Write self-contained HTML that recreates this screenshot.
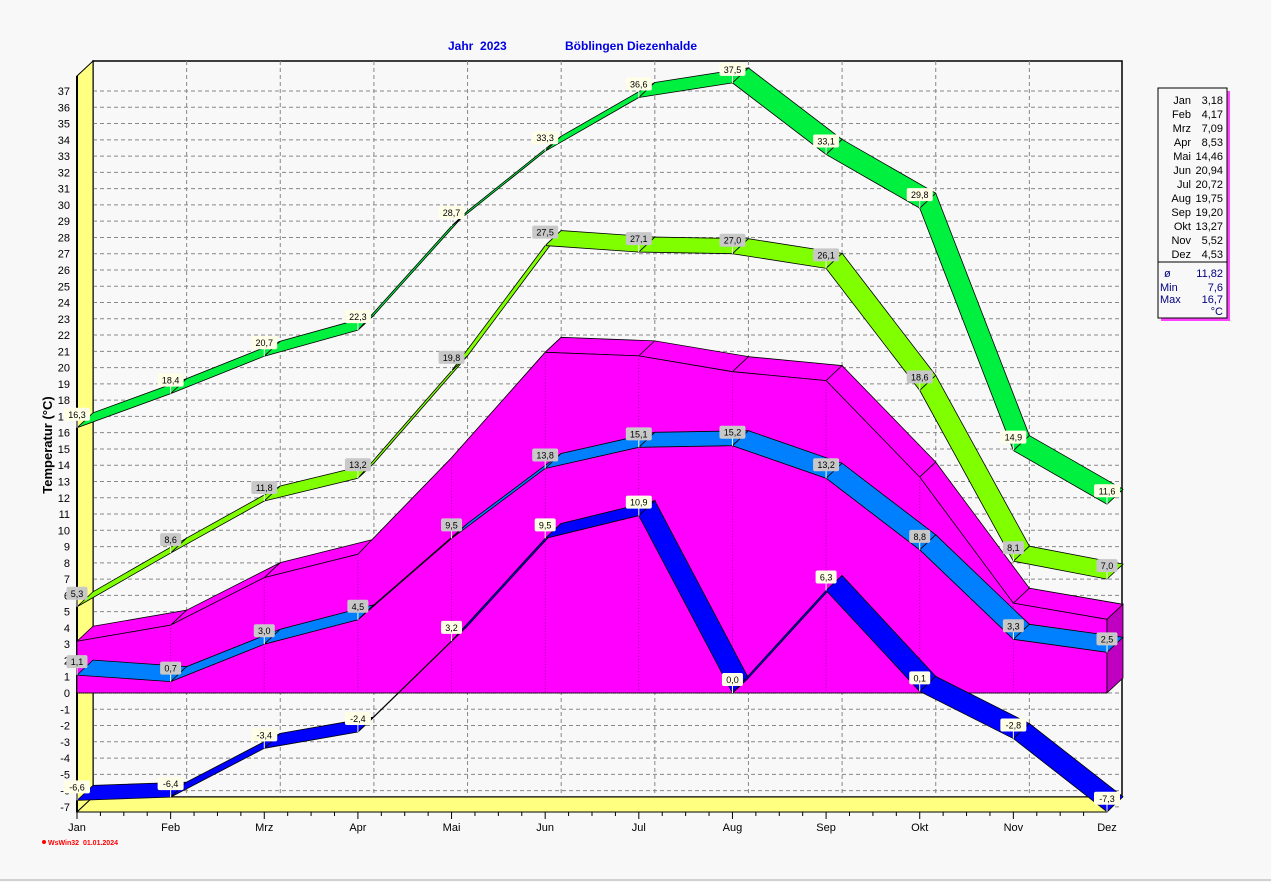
<!DOCTYPE html><html><head><meta charset="utf-8"><style>
body{margin:0;background:#f8f8f8;}
svg{display:block;font-family:"Liberation Sans",sans-serif;}
</style></head><body>
<svg id="s" width="1271" height="882" xmlns="http://www.w3.org/2000/svg"></svg>
<script>
const s=document.getElementById('s');
let h='';
const X0=77,DX=(1107-77)/11,Y0=693,K=16.27,dx=16,dy=-15;
const fx=i=>X0+i*DX, fy=v=>Y0-v*K;
// back wall
h+=`<rect x="93" y="61" width="1029" height="736" fill="#f8f8f8" stroke="#000" stroke-width="1.5"/>`;
// grid
for(let v=-7;v<=37;v++){const y=fy(v);h+=`<line x1="93" x2="1122" y1="${y}" y2="${y}" stroke="#888" stroke-dasharray="4,3"/>`;
h+=`<line x1="${X0}" y1="${y+0}" x2="${X0+dx}" y2="${y+dy}" stroke="#888" stroke-dasharray="3,2"/>`;
h+=`<text x="70" y="${y+4}" font-size="11" text-anchor="end">${v}</text>`;}
for(let i=1;i<11;i++){const x=fx(i)+dx;h+=`<line x1="${x}" x2="${x}" y1="61" y2="797" stroke="#888" stroke-dasharray="4,3"/>`;}
// left wall
h+=`<polygon points="77,76 93,61 93,797 77,812" fill="#ffff80" stroke="#000"/>`;
// floor
h+=`<polygon points="77,812 93,797 1122,797 1107,812" fill="#ffff80" stroke="#000"/>`;
h+=`<line x1="77" y1="76" x2="77" y2="812" stroke="#000" stroke-width="2"/>`;
const mon=["Jan","Feb","Mrz","Apr","Mai","Jun","Jul","Aug","Sep","Okt","Nov","Dez"];
mon.forEach((m,i)=>{h+=`<text x="${fx(i)}" y="831" font-size="11" text-anchor="middle">${m}</text>`;});
for(let i=0;i<44;i++){const x=X0+i*DX/4;h+=`<line x1="${x}" x2="${x}" y1="812" y2="${i%4?816:819}" stroke="#000"/>`;}
const mean=[3.18,4.17,7.09,8.53,14.46,20.94,20.72,19.75,19.20,13.27,5.52,4.53];
// pink area
let fp=mean.map((v,i)=>`${fx(i)},${fy(v)}`).join(' ');
for(let i=0;i<11;i++){h+=`<polygon points="${fx(i)},${fy(mean[i])} ${fx(i+1)},${fy(mean[i+1])} ${fx(i+1)+dx},${fy(mean[i+1])+dy} ${fx(i)+dx},${fy(mean[i])+dy}" fill="#ff00ff" stroke="#000" stroke-width="0.8"/>`;}
h+=`<polygon points="${fp} ${fx(11)},${Y0} ${fx(0)},${Y0}" fill="#ff00ff" stroke="#000" stroke-width="0.8"/>`;
h+=`<polygon points="${fx(11)},${fy(4.53)} ${fx(11)+dx},${fy(4.53)+dy} ${fx(11)+dx},${Y0+dy} ${fx(11)},${Y0}" fill="#c000c0" stroke="#000" stroke-width="0.8"/>`;
for(let i=1;i<11;i++)h+=`<line x1="${fx(i)}" x2="${fx(i)}" y1="${fy(mean[i])}" y2="${Y0}" stroke="#a000a0" stroke-dasharray="1,2"/>`;
h+=`<line x1="${fx(0)}" x2="${fx(11)}" y1="${Y0}" y2="${Y0}" stroke="#000" stroke-dasharray="1,1"/>`;
function ribbon(d,col){let o='';for(let i=0;i<11;i++){o+=`<polygon points="${fx(i)},${fy(d[i])} ${fx(i+1)},${fy(d[i+1])} ${fx(i+1)+dx},${fy(d[i+1])+dy} ${fx(i)+dx},${fy(d[i])+dy}" fill="${col}" stroke="#000" stroke-width="0.8"/>`;}return o;}
const blue=[1.1,0.7,3.0,4.5,9.5,13.8,15.1,15.2,13.2,8.8,3.3,2.5];
const mn=[-6.6,-6.4,-3.4,-2.4,3.2,9.5,10.9,0.0,6.3,0.1,-2.8,-7.3];
const av=[5.3,8.6,11.8,13.2,19.8,27.5,27.1,27.0,26.1,18.6,8.1,7.0];
const mx=[16.3,18.4,20.7,22.3,28.7,33.3,36.6,37.5,33.1,29.8,14.9,11.6];
h+=ribbon(blue,'#0080ff')+ribbon(mn,'#0000ff')+ribbon(av,'#80ff00')+ribbon(mx,'#00f040');
function labels(d,bg){let o='';d.forEach((v,i)=>{const x=fx(i),y=fy(v);const t=v.toFixed(1).replace('.',',');const w=t.length*5+6;
o+=`<line x1="${x}" x2="${x}" y1="${y}" y2="${y-8}" stroke="#fff"/><rect x="${x-w/2}" y="${y-20}" width="${w}" height="13" rx="2" fill="${bg}"/><text x="${x}" y="${y-10}" font-size="9" text-anchor="middle">${t}</text>`;});return o;}
h+=labels(blue,'#c8c8c8')+labels(mn,'#ffffe8')+labels(av,'#c8c8c8')+labels(mx,'#ffffe8');
// title
h+=`<text x="448" y="50" font-size="12" font-weight="bold" fill="#0000e0" xml:space="preserve">Jahr  2023</text><text x="565" y="50" font-size="12" font-weight="bold" fill="#0000e0">Böblingen Diezenhalde</text>`;
h+=`<text transform="translate(52,445) rotate(-90)" font-size="13" font-weight="bold" text-anchor="middle">Temperatur  (°C)</text>`;
// legend
h+=`<rect x="1161" y="91" width="69" height="230" fill="#ff40ff"/><rect x="1158" y="88" width="69" height="230" fill="#f8f8f8" stroke="#000"/><line x1="1158" x2="1227" y1="262" y2="262" stroke="#000"/>`;
mean.forEach((v,i)=>{const y=104+i*14;h+=`<text x="1191" y="${y}" font-size="11" text-anchor="end">${mon[i]}</text><text x="1223" y="${y}" font-size="11" text-anchor="end">${v.toFixed(2).replace('.',',')}</text>`;});
[["ø","11,82",277],["Min","7,6",291],["Max","16,7",303],["","°C",315]].forEach(r=>{h+=`<text x="${r[0]=='ø'?1164:1160}" y="${r[2]}" font-size="11" fill="#000080">${r[0]}</text><text x="1223" y="${r[2]}" font-size="11" fill="#000080" text-anchor="end">${r[1]}</text>`;});
h+=`<circle cx="44" cy="842" r="2" fill="#f00"/><text x="48" y="845" font-size="7" fill="#f00" font-weight="bold" xml:space="preserve">WsWin32  01.01.2024</text>`;
h+=`<line x1="0" x2="1271" y1="880" y2="880" stroke="#aaa"/>`;
s.innerHTML=h;
</script></body></html>
